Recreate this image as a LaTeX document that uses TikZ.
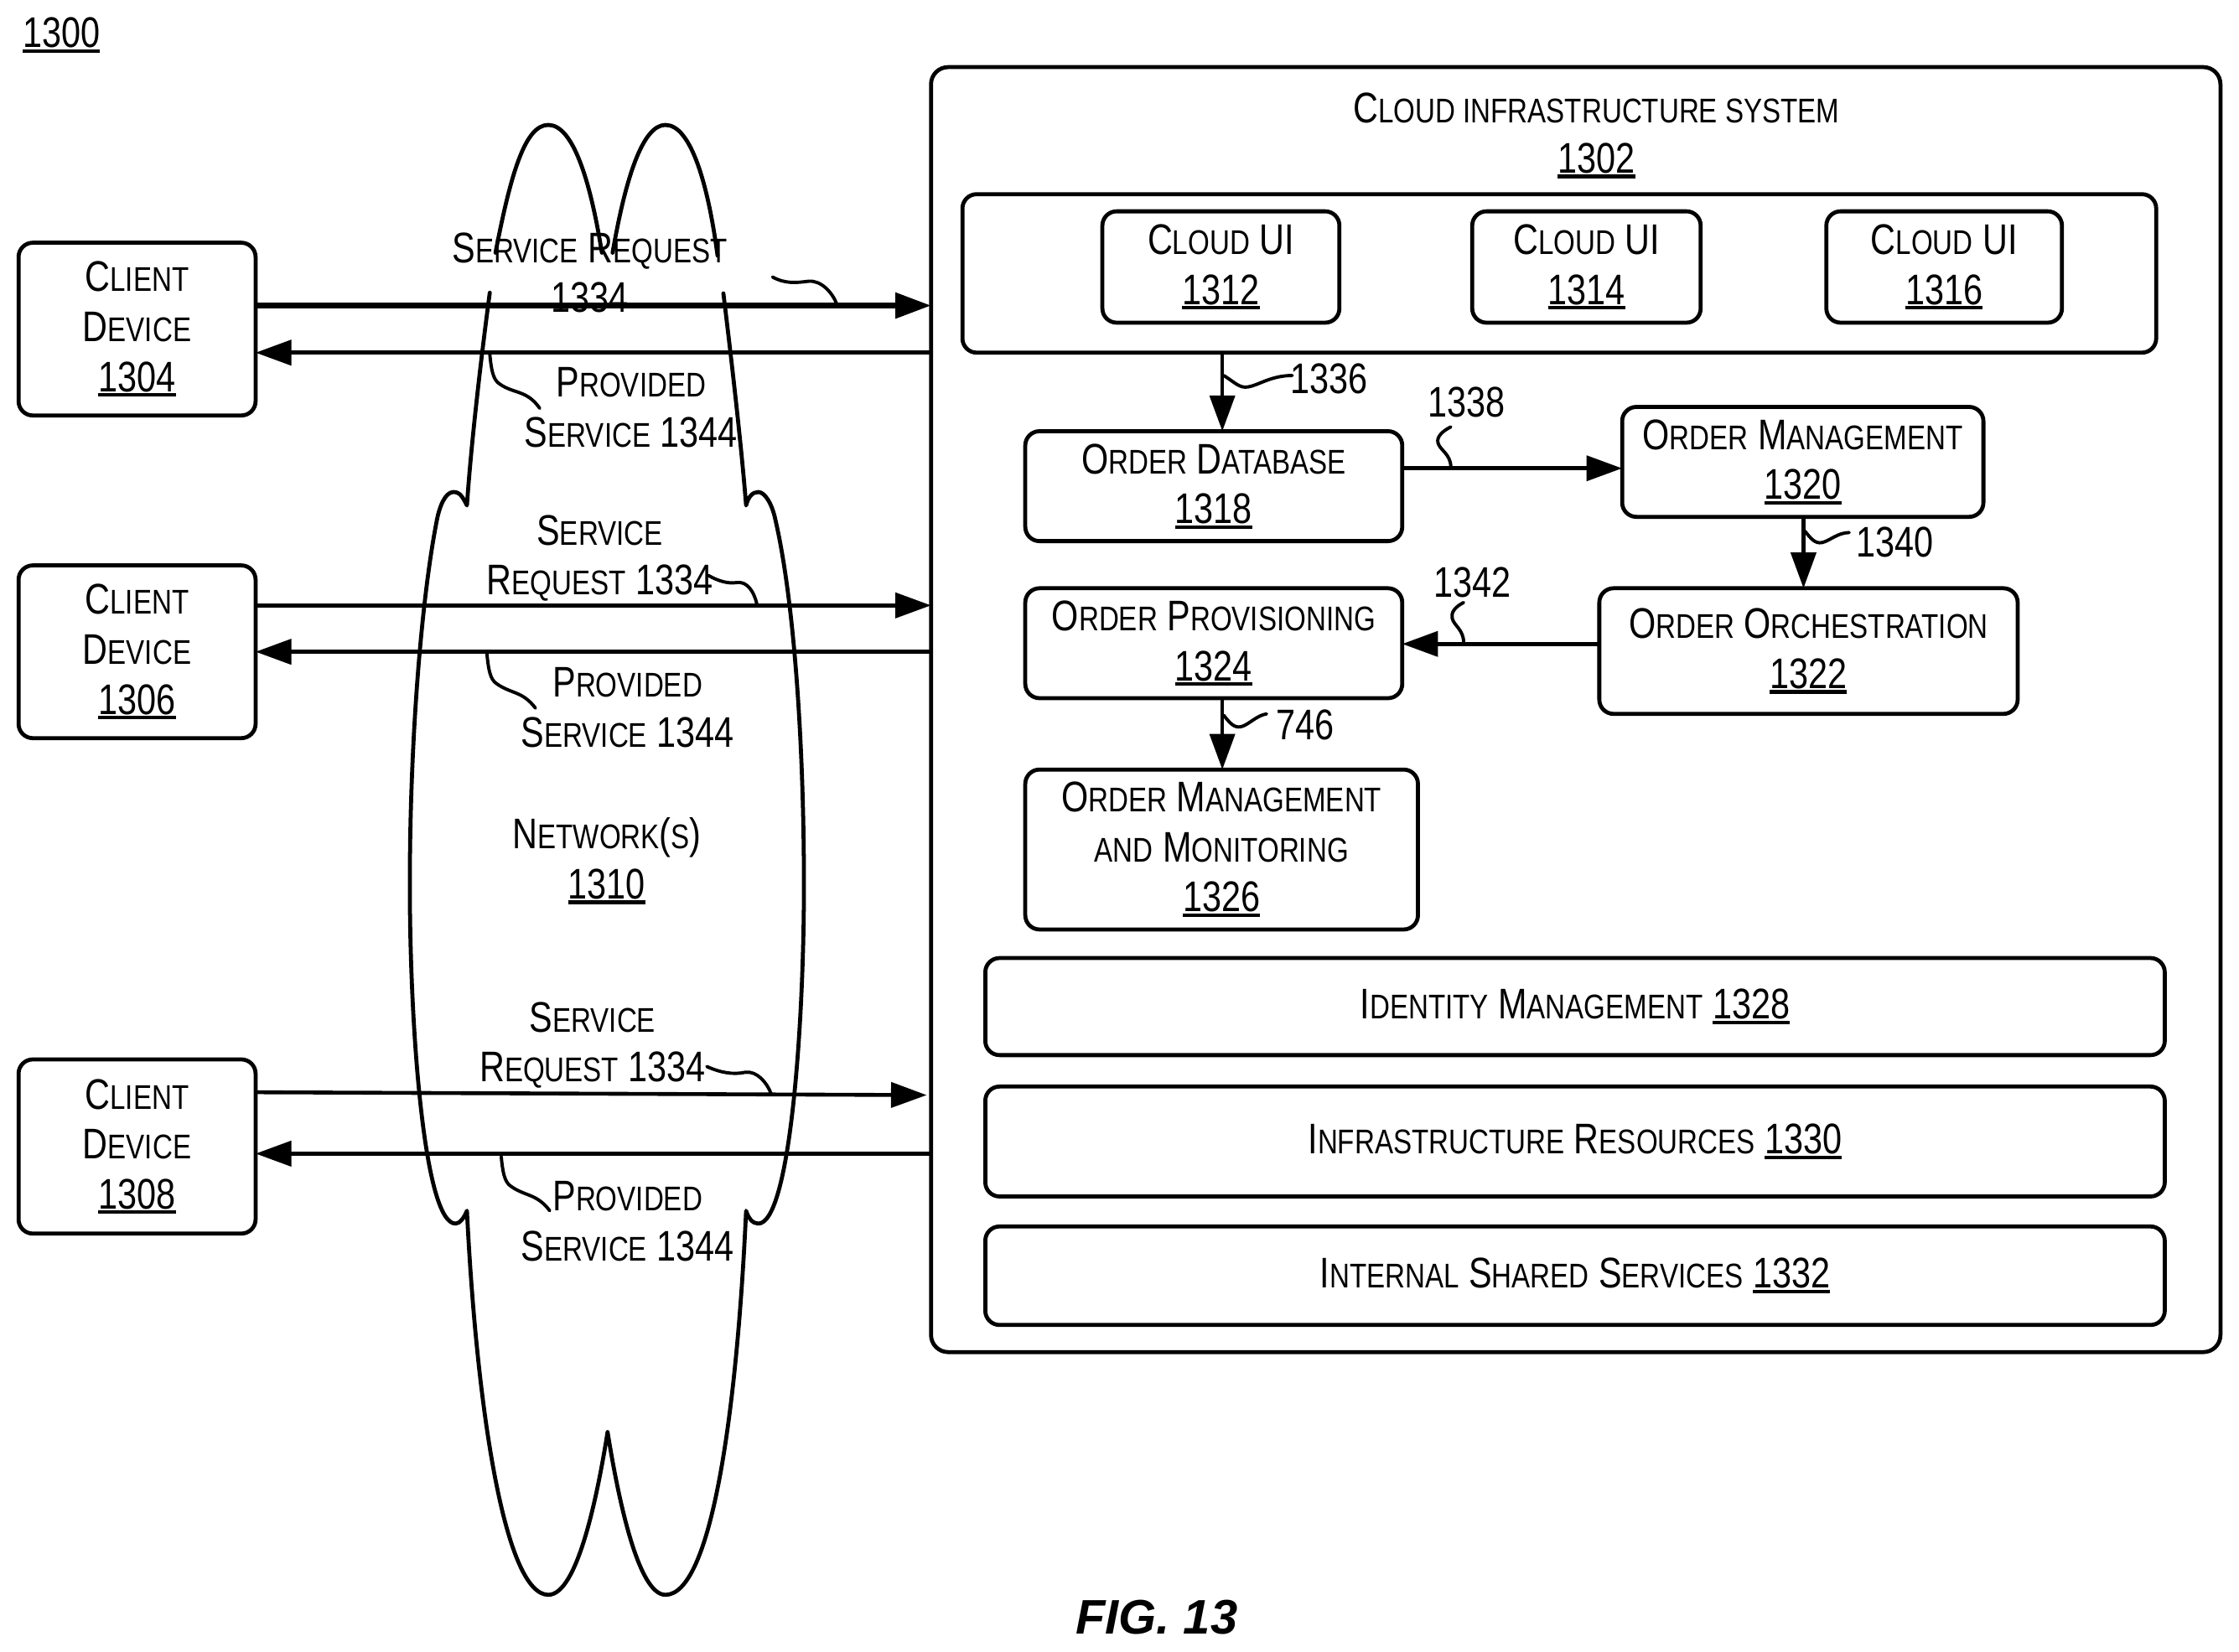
\documentclass[tikz,border=0pt]{standalone}
\usepackage{fontspec}
\setmainfont{Liberation Sans}[FakeStretch=0.81]
\newfontfamily\figfont{Liberation Sans}
\usetikzlibrary{arrows.meta}
\newcommand\SCa[1]{{\fontsize{30}{35}\selectfont #1}}
\newcommand\SCb[1]{{\fontsize{24}{35}\selectfont #1}}
\newcommand\SC[2]{\SCa{#1}\SCb{#2}}
\newcommand\ul[1]{\setbox0\hbox{\fontsize{30}{35}\selectfont #1}\rlap{\rule[-3.6pt]{\wd0}{2.4pt}}\box0 }
\tikzset{
  every node/.style={inner sep=0pt,outer sep=0pt,align=center,font=\fontsize{30}{35}\selectfont},
  boxn/.style={draw=black,line width=2.8pt,rounded corners=10pt},
  conn/.style={draw=black,line width=2.7pt,-{Triangle[length=25pt,width=17.5pt]}},
  thickconn/.style={conn,line width=3.8pt},
  leader/.style={draw=black,line width=2.3pt,line cap=round},
  cloudl/.style={draw=black,line width=2.8pt,line join=round,line cap=round}
}
\begin{document}
\begin{tikzpicture}[x=1pt,y=-1pt]
\useasboundingbox (0,0) rectangle (1568,1157);
% title
\node (fig) at (43,24.5) {\ul{1300}};
% cloud
\draw[cloudl] (347,177) .. controls (358,120) and (368,87.5) .. (384,87.5) .. controls (402,87.5) and (414,130) .. (421.5,177);
\draw[cloudl] (429,177) .. controls (438,125) and (450,87.5) .. (466,87.5) .. controls (484,87.5) and (496,130) .. (502.5,179);
\draw[cloudl] (343,205) .. controls (337,250) and (330,310) .. (327,354) .. controls (324,348) and (322,344.6) .. (317.6,344.6)
  .. controls (312,344.6) and (308,354) .. (306,364) .. controls (295,420) and (287,520) .. (287,620)
  .. controls (287,720) and (297,857) .. (319,857) .. controls (322,857) and (325,853) .. (327,848)
  .. controls (334,990) and (354,1117) .. (384,1117) .. controls (404,1117) and (418,1050) .. (425.5,1003)
  .. controls (433,1050) and (447,1117) .. (466,1117) .. controls (498,1117) and (516,990) .. (522.5,848)
  .. controls (524,853) and (527,857) .. (531,857) .. controls (553,857) and (563,720) .. (563,620)
  .. controls (563,520) and (556,420) .. (543,364) .. controls (541,354) and (536,344.6) .. (531,344.6)
  .. controls (527,344.6) and (524,348) .. (522.5,354) .. controls (519,310) and (512,250) .. (506.6,205.5);
% client devices
\node[boxn,minimum width=166pt,minimum height=121pt] (c1) at (96,230.5) {\SC{C}{LIENT}\\\SC{D}{EVICE}\\\ul{1304}};
\node[boxn,minimum width=166pt,minimum height=121pt] (c2) at (96,456.5) {\SC{C}{LIENT}\\\SC{D}{EVICE}\\\ul{1306}};
\node[boxn,minimum width=166pt,minimum height=122pt] (c3) at (96,803) {\SC{C}{LIENT}\\\SC{D}{EVICE}\\\ul{1308}};
% main system
\node[boxn,rounded corners=12pt,minimum width=903pt,minimum height=900pt] (main) at (1103.5,497) {};
\node (title) at (1118,95) {\SC{C}{LOUD INFRASTRUCTURE SYSTEM}\\\ul{1302}};
\node[boxn,minimum width=836pt,minimum height=111pt] (ui) at (1092,191.5) {};
\node[boxn,minimum width=166pt,minimum height=78pt] (u1) at (855,187) {\SC{C}{LOUD} UI\\\ul{1312}};
\node[boxn,minimum width=160pt,minimum height=78pt] (u2) at (1111,187) {\SC{C}{LOUD} UI\\\ul{1314}};
\node[boxn,minimum width=165pt,minimum height=78pt] (u3) at (1361.5,187) {\SC{C}{LOUD} UI\\\ul{1316}};
\node[boxn,minimum width=264pt,minimum height=77pt] (db) at (850,340.5) {\SC{O}{RDER} \SC{D}{ATABASE}\\\ul{1318}};
\node[boxn,minimum width=253pt,minimum height=77pt] (om) at (1262.5,323.5) {\SC{O}{RDER} \SC{M}{ANAGEMENT}\\\ul{1320}};
\node[boxn,minimum width=293pt,minimum height=88pt] (orch) at (1266.5,456) {\SC{O}{RDER} \SC{O}{RCHESTRATION}\\\ul{1322}};
\node[boxn,minimum width=264pt,minimum height=77pt] (prov) at (850,450.5) {\SC{O}{RDER} \SC{P}{ROVISIONING}\\\ul{1324}};
\node[boxn,minimum width=275pt,minimum height=112pt] (omm) at (855.5,595) {\SC{O}{RDER} \SC{M}{ANAGEMENT}\\\SCb{AND} \SC{M}{ONITORING}\\\ul{1326}};
\node[boxn,minimum width=826pt,minimum height=68pt] (idm) at (1103,705) {\SC{I}{DENTITY} \SC{M}{ANAGEMENT} \ul{1328}};
\node[boxn,minimum width=826pt,minimum height=77pt] (infra) at (1103,799.5) {\SC{I}{NFRASTRUCTURE} \SC{R}{ESOURCES} \ul{1330}};
\node[boxn,minimum width=826pt,minimum height=69pt] (shared) at (1103,893.5) {\SC{I}{NTERNAL} \SC{S}{HARED} \SC{S}{ERVICES} \ul{1332}};
% free labels
\node (req1) at (413,191) {\SC{S}{ERVICE} \SC{R}{EQUEST}\\1334};
\node (prv1) at (442,285.5) {\SC{P}{ROVIDED}\\\SC{S}{ERVICE} 1344};
\node (req2) at (420,391) {\SC{S}{ERVICE}\\\SC{R}{EQUEST} 1334};
\node (prv2) at (439.5,495.5) {\SC{P}{ROVIDED}\\\SC{S}{ERVICE} 1344};
\node (net) at (425,603) {\SC{N}{ETWORK}\SCa{(}\SCb{S}\SCa{)}\\\ul{1310}};
\node (req3) at (415,732) {\SC{S}{ERVICE}\\\SC{R}{EQUEST} 1334};
\node (prv3) at (439.5,855.5) {\SC{P}{ROVIDED}\\\SC{S}{ERVICE} 1344};
\node (n1336) at (931,265) {1336};
\node (n1338) at (1027,282) {1338};
\node (n1340) at (1327,380) {1340};
\node (n1342) at (1031,408) {1342};
\node (n746) at (914,508) {746};
\node[font=\figfont\bfseries\itshape\fontsize{34}{36}\selectfont] (figlabel) at (810,1133) {FIG. 13};
% connectors
\draw[thickconn] (c1.east |- 0,214) -- (main.west |- 0,214);
\draw[conn] (main.west |- 0,247) -- (c1.east |- 0,247);
\draw[conn] (c2.east |- 0,424) -- (main.west |- 0,424);
\draw[conn] (main.west |- 0,456.5) -- (c2.east |- 0,456.5);
\draw[conn] (c3.east |- 0,765) -- (649,767);
\draw[conn] (main.west |- 0,808) -- (c3.east |- 0,808);
\draw[conn] (ui.south -| 856,0) -- (db.north -| 856,0);
\draw[conn] (db.east |- 0,328) -- (om.west |- 0,328);
\draw[conn] (om.south -| 1263,0) -- (orch.north -| 1263,0);
\draw[conn] (orch.west |- 0,451) -- (prov.east |- 0,451);
\draw[conn] (prov.south -| 856,0) -- (omm.north -| 856,0);
% leaders
\coordinate (a1) at (541,194); \coordinate (b1) at (586,213);
\draw[leader] (a1) .. controls (550,199) and (558,198) .. (566,197) .. controls (575,196) and (583,205) .. (b1);
\coordinate (a2) at (343,248); \coordinate (b2) at (378,286);
\draw[leader] (a2) .. controls (344,258) and (345,266) .. (350,269) .. controls (360,276) and (369,273) .. (b2);
\coordinate (a3) at (496,403); \coordinate (b3) at (530,423);
\draw[leader] (a3) .. controls (503,407) and (510,409) .. (516,408) .. controls (523,407) and (528,414) .. (b3);
\coordinate (a4) at (341,458); \coordinate (b4) at (375,496);
\draw[leader] (a4) .. controls (342,468) and (343,476) .. (348,479) .. controls (358,486) and (366,484) .. (b4);
\coordinate (a5) at (495,747); \coordinate (b5) at (540,766);
\draw[leader] (a5) .. controls (504,751) and (513,753) .. (522,751) .. controls (530,750) and (537,758) .. (b5);
\coordinate (a6) at (351,810); \coordinate (b6) at (385,848);
\draw[leader] (a6) .. controls (352,820) and (353,828) .. (358,831) .. controls (368,838) and (376,836) .. (b6);
\coordinate (a7) at (857,263); \coordinate (b7) at (905,263);
\draw[leader] (a7) .. controls (865,268) and (868,272) .. (874,271) .. controls (881,270) and (890,263) .. (b7);
\coordinate (a8) at (1016,299); \coordinate (b8) at (1016,327);
\draw[leader] (a8) .. controls (1010,302) and (1006,306) .. (1007,310) .. controls (1008,315) and (1016,318) .. (b8);
\coordinate (a9) at (1264,372); \coordinate (b9) at (1295,373);
\draw[leader] (a9) .. controls (1268,377) and (1271,381) .. (1276,380) .. controls (1281,379) and (1287,373) .. (b9);
\coordinate (a10) at (1025,422); \coordinate (b10) at (1025,450);
\draw[leader] (a10) .. controls (1019,425) and (1016,429) .. (1017,433) .. controls (1018,438) and (1025,441) .. (b10);
\coordinate (a11) at (857,501); \coordinate (b11) at (887,500);
\draw[leader] (a11) .. controls (861,506) and (864,510) .. (869,509) .. controls (874,508) and (880,501) .. (b11);
\end{tikzpicture}
\end{document}
